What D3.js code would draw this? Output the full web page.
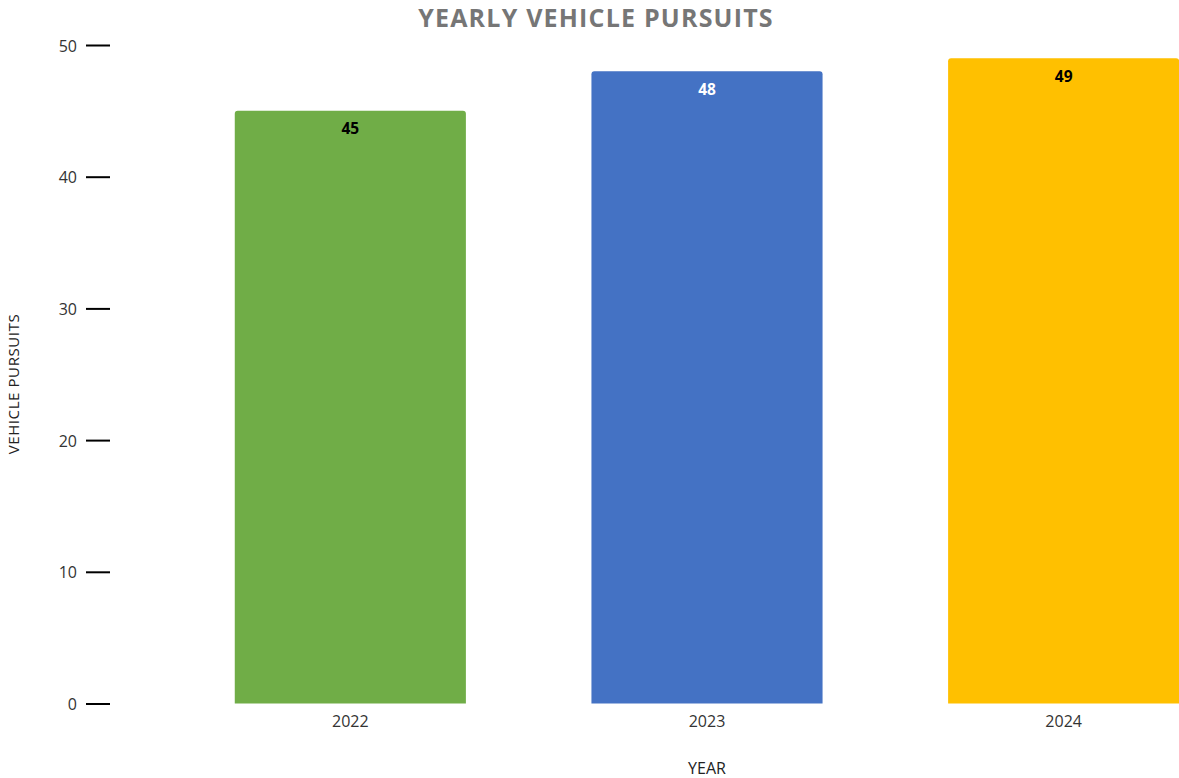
<!DOCTYPE html>
<html>
<head>
<meta charset="utf-8">
<script src="https://cdn.jsdelivr.net/npm/d3@7"></script>
<style>
  body { margin: 0; background: #fff; }
  text { font-family: "Open Sans", sans-serif; }
</style>
</head>
<body>
<div id="chart"></div>
<script>
// chart data
var years = ["2022", "2023", "2024"];
var pursuits = [45, 48, 49];
var barColors = ["#70AD47", "#4472C4", "#FFC000"];
var labelColors = ["#000000", "#ffffff", "#000000"];
var yTicks = [0, 10, 20, 30, 40, 50];

var svgWidth = 1179;
var svgHeight = 778;

var svg = d3.select("#chart")
    .append("svg")
    .attr("width", svgWidth)
    .attr("height", svgHeight);

// scales
var xScale = d3.scaleBand()
    .domain(years)
    .range([172, 1242])
    .paddingInner(0.352)
    .paddingOuter(0.176);

var yScale = d3.scaleLinear()
    .domain([0, 50])
    .range([703.5, 45]);

// title
svg.append("text")
    .attr("x", 596)
    .attr("y", 27)
    .attr("text-anchor", "middle")
    .attr("fill", "#767676")
    .attr("font-size", "25px")
    .attr("font-weight", "bold")
    .attr("letter-spacing", "1.2px")
    .text("YEARLY VEHICLE PURSUITS");

// bars with slightly rounded tops
function barPath(x, y, w, h, r) {
    return `M${x},${y + h} V${y + r} Q${x},${y} ${x + r},${y} H${x + w - r} Q${x + w},${y} ${x + w},${y + r} V${y + h} Z`;
}

var data = years.map((y, i) => ({ year: y, value: pursuits[i], color: barColors[i], label: labelColors[i] }));

svg.selectAll(".bar")
    .data(data)
    .enter()
    .append("path")
    .attr("class", "bar")
    .attr("fill", d => d.color)
    .attr("d", d => barPath(xScale(d.year), yScale(d.value), xScale.bandwidth(), yScale(0) - yScale(d.value), 3));

// value labels
svg.selectAll(".val")
    .data(data)
    .enter()
    .append("text")
    .attr("class", "val")
    .attr("x", d => xScale(d.year) + xScale.bandwidth() / 2)
    .attr("y", d => yScale(d.value) + 23.5)
    .attr("text-anchor", "middle")
    .attr("font-size", "15.5px")
    .attr("font-weight", "bold")
    .attr("fill", d => d.label)
    .text(d => d.value);

// y axis (ticks only, no domain line)
var yAxis = d3.axisLeft(yScale)
    .tickValues(yTicks)
    .tickSize(24)
    .tickPadding(9);

var yG = svg.append("g")
    .attr("transform", "translate(110,0)")
    .call(yAxis);
yG.select(".domain").remove();
yG.selectAll(".tick line").attr("stroke", "#000").attr("stroke-width", 2);
yG.selectAll(".tick text")
    .attr("font-family", "Open Sans, sans-serif")
    .attr("font-size", "16px")
    .attr("dy", "0.38em")
    .attr("fill", "#333");

// x axis labels
var xAxis = d3.axisBottom(xScale).tickSize(0).tickPadding(12);
var xG = svg.append("g")
    .attr("transform", `translate(0,${yScale(0)})`)
    .call(xAxis);
xG.select(".domain").remove();
xG.selectAll(".tick text")
    .attr("font-family", "Open Sans, sans-serif")
    .attr("font-size", "16px")
    .attr("fill", "#333");

// axis titles
svg.append("text")
    .attr("x", 707)
    .attr("y", 774)
    .attr("text-anchor", "middle")
    .attr("font-size", "16px")
    .attr("fill", "#222")
    .text("YEAR");

svg.append("text")
    .attr("transform", "translate(19,384) rotate(-90)")
    .attr("text-anchor", "middle")
    .attr("font-size", "15px")
    .attr("letter-spacing", "0.6px")
    .attr("fill", "#222")
    .text("VEHICLE PURSUITS");
</script>
</body>
</html>
